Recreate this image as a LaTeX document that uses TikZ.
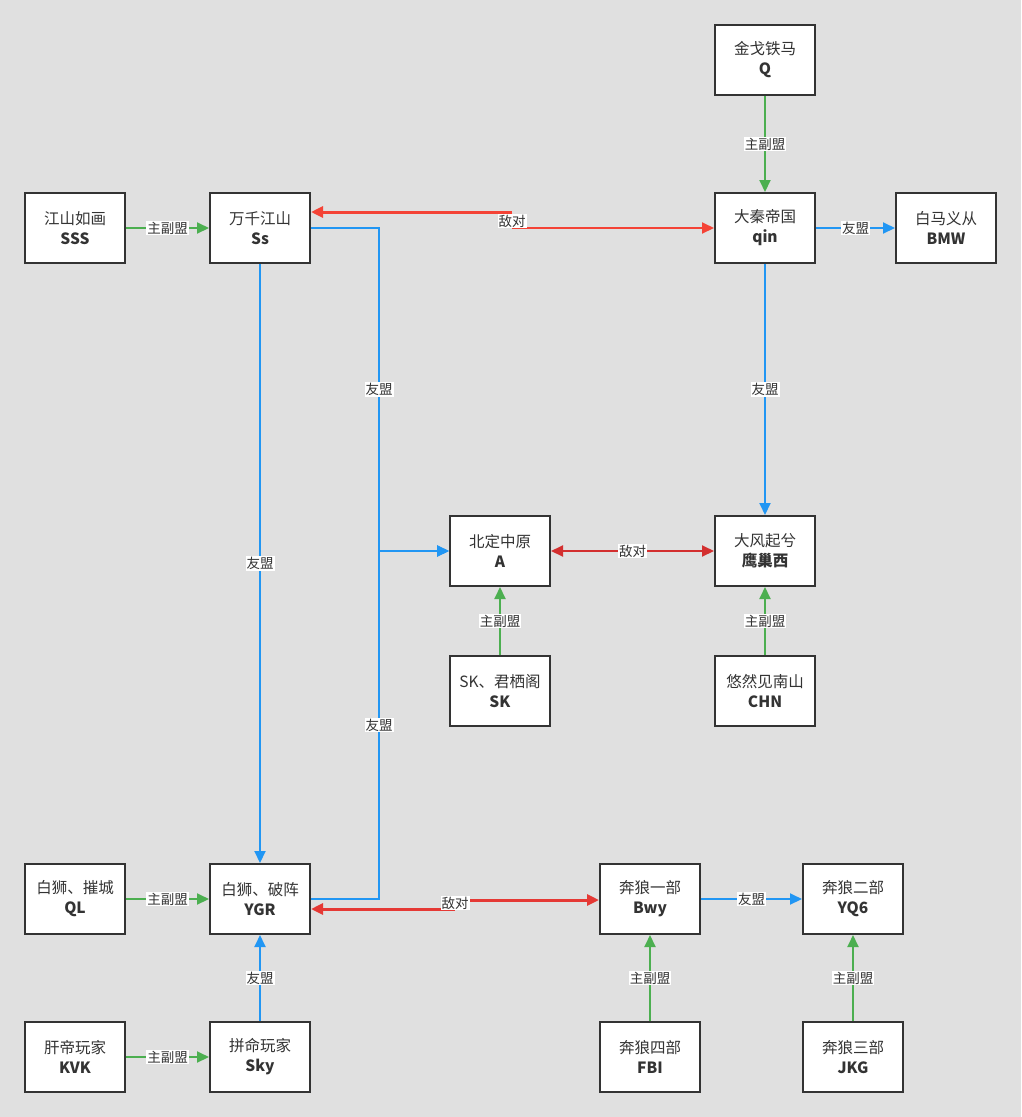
\documentclass[tikz,border=0pt]{standalone}
\usepackage{fontspec}
\setmainfont{Noto Sans CJK SC}
\usetikzlibrary{arrows.meta}
\definecolor{bg}{RGB}{224,224,224}
\definecolor{boxc}{RGB}{51,51,51}
\definecolor{txt}{RGB}{51,51,51}
\definecolor{gc}{RGB}{76,175,80}
\definecolor{bc}{RGB}{33,150,243}
\definecolor{rc}{RGB}{244,67,54}
\definecolor{rd}{RGB}{211,47,47}
\definecolor{rm}{RGB}{229,57,53}
\tikzset{
  box/.style={draw=boxc, line width=2pt, fill=white, minimum width=100pt, minimum height=70pt,
    inner sep=0pt, align=center, text=txt, font=\fontsize{15.5}{20}\selectfont},
  lbl/.style={fill=white, inner sep=1pt, text=txt, font=\fontsize{13.5}{15}\selectfont},
  tip/.style={-{Triangle[length=12pt,width=11pt]}},
  gl/.style={draw=gc, line width=2pt, tip},
  bl/.style={draw=bc, line width=2pt, tip},
}
\begin{document}
\begin{tikzpicture}[x=1pt,y=-1pt]
\useasboundingbox[fill=bg] (0,0) rectangle (1021,1117);
% nodes
\node[box] (Q)   at (765,60)   {金戈铁马\\\textbf{Q}};
\node[box] (SSS) at (75,228)   {江山如画\\\textbf{SSS}};
\node[box] (Ss)  at (260,228)  {万千江山\\\textbf{Ss}};
\node[box] (qin) at (765,228)  {大秦帝国\\\textbf{qin}};
\node[box] (BMW) at (946,228)  {白马义从\\\textbf{BMW}};
\node[box] (A)   at (500,551)  {北定中原\\\textbf{A}};
\node[box] (YCX) at (765,551)  {大风起兮\\\textbf{鹰巢西}};
\node[box] (SK)  at (500,691)  {SK、君栖阁\\\textbf{SK}};
\node[box] (CHN) at (765,691)  {悠然见南山\\\textbf{CHN}};
\node[box] (QL)  at (75,899)   {白狮、摧城\\\textbf{QL}};
\node[box] (YGR) at (260,899)  {白狮、破阵\\\textbf{YGR}};
\node[box] (Bwy) at (650,899)  {奔狼一部\\\textbf{Bwy}};
\node[box] (YQ6) at (853,899)  {奔狼二部\\\textbf{YQ6}};
\node[box] (KVK) at (75,1057)  {肝帝玩家\\\textbf{KVK}};
\node[box] (Sky) at (260,1057) {拼命玩家\\\textbf{Sky}};
\node[box] (FBI) at (650,1057) {奔狼四部\\\textbf{FBI}};
\node[box] (JKG) at (853,1057) {奔狼三部\\\textbf{JKG}};
% junction
\coordinate (j) at (379,551);
% green edges
\draw[gl] (Q) -- node[lbl]{主副盟} (qin);
\draw[gl] (SSS) -- node[lbl]{主副盟} (Ss);
\draw[gl] (SK) -- node[lbl]{主副盟} (A);
\draw[gl] (CHN) -- node[lbl]{主副盟} (YCX);
\draw[gl] (QL) -- node[lbl]{主副盟} (YGR);
\draw[gl] (KVK) -- node[lbl]{主副盟} (Sky);
\draw[gl] (FBI) -- node[lbl]{主副盟} (Bwy);
\draw[gl] (JKG) -- node[lbl]{主副盟} (YQ6);
% blue edges
\draw[bl] (qin) -- node[lbl]{友盟} (BMW);
\draw[bl] (qin) -- node[lbl]{友盟} (YCX);
\draw[bl] (Ss) -- node[lbl]{友盟} (YGR);
\draw[bl] (Sky) -- node[lbl]{友盟} (YGR);
\draw[bl] (Bwy) -- node[lbl]{友盟} (YQ6);
\draw[bl] (Ss.east) -| node[lbl,pos=0.75]{友盟} (j) -- (A.west);
\draw[bl] (YGR.east) -| node[lbl,pos=0.75]{友盟} (j) -- (A.west);
% red edges
\draw[draw=rd, line width=2pt, {Triangle[length=12pt,width=11pt]}-{Triangle[length=12pt,width=11pt]}]
  (A) -- node[lbl]{敌对} (YCX);
\coordinate (e1) at (512,221);
\coordinate (e1l) at (512,212);
\coordinate (e1r) at (512,228);
\draw[draw=rc, line width=3pt, tip] (e1l) -- (e1l -| Ss.east);
\draw[draw=rc, line width=2pt, tip] (e1r) -- (qin.west);
\node[lbl] (L1) at (e1) {敌对};
\coordinate (e2) at (455,903);
\coordinate (e2l) at (455,909);
\coordinate (e2r) at (455,900);
\draw[draw=rm, line width=3pt, tip] (e2l) -- (e2l -| YGR.east);
\draw[draw=rm, line width=3pt, tip] (e2r) -- (e2r -| Bwy.west);
\node[lbl] (L2) at (e2) {敌对};
\end{tikzpicture}
\end{document}
